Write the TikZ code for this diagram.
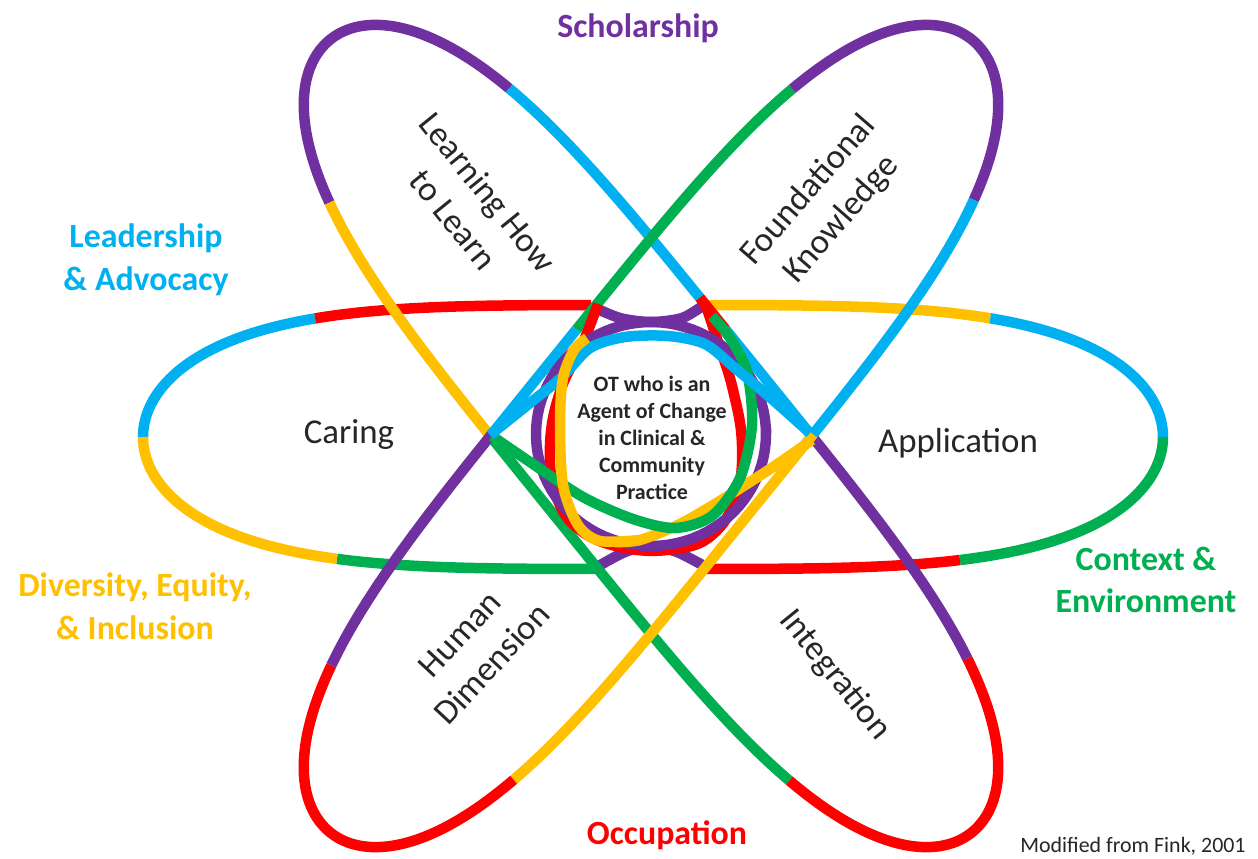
\documentclass[tikz,border=0pt]{standalone}
\usepackage{fontspec}
\setmainfont{Carlito}

\definecolor{opurple}{HTML}{7030A0}
\definecolor{oblue}{HTML}{00B0F0}
\definecolor{oyellow}{HTML}{FFC000}
\definecolor{ogreen}{HTML}{00B050}
\definecolor{ored}{HTML}{FF0000}

\tikzset{
  orbit/.style={line width=10.5bp},
  petal/.style={font=\fontsize{35}{44}\selectfont, align=center, text=black!85},
  aim/.style={font=\bfseries\fontsize{34}{43}\selectfont, align=center},
}

% 轨道上的一段: 中心x, 中心y, 长半轴, 短半轴, 倾角, 颜色, 起止参数
\newcommand{\orbitarc}[8]{%
  \draw [orbit,#6] plot [domain=#7:#8, samples=70, variable=\t]
    ({#1 + #3*cos(\t)*cos(#5) - #4*sin(\t)*sqrt(1+cos(\t)*cos(\t))*sin(#5)},
     {#2 + #3*cos(\t)*sin(#5) + #4*sin(\t)*sqrt(1+cos(\t)*cos(\t))*cos(#5)});
}

\begin{document}
\begin{tikzpicture}[x=1bp, y=-1bp]
\useasboundingbox (0,0) rectangle (1258,859);

%%水平轨道
\foreach \segc/\ta/\tb in {oblue/180/228.5, ored/228.5/263, oyellow/276/311.4, oblue/311.4/360,
    ogreen/0/53, ored/53/84, ogreen/96.5/128.3, oyellow/128.3/180}
  {\orbitarc{653}{437}{510}{132}{0}{\segc}{\ta}{\tb}}
\draw [orbit,opurple] plot [smooth] coordinates {(591,306) (620,318) (651,322) (682,318) (704,305)};
\draw [orbit,opurple] plot [smooth] coordinates {(597,567) (625,552) (651,546) (677,552) (706,567)};

%%左上-右下轨道
\foreach \segc/\ta/\tb in {opurple/138.8/225.2, oyellow/101.7/138.8, ogreen/45.9/101.7, ored/-43.2/45.9,
    opurple/-79.2/-43.2, oblue/-94.1/-79.2, ored/-98.7/-94.1, oblue/-134.8/-98.7}
  {\orbitarc{651}{436}{510}{125}{51}{\segc}{\ta}{\tb}}

%%左下-右上轨道
\foreach \segc/\ta/\tb in {ogreen/-86/-45.3, opurple/-45.3/40.7, oblue/40.7/78.3, oyellow/78.3/133.9,
    ored/133.9/221.9, opurple/221.9/258.8, oblue/258.8/274}
  {\orbitarc{651}{436}{510}{125}{-51}{\segc}{\ta}{\tb}}

%%中心的小圈
\draw [orbit,ored] plot [smooth, tension=0.7] coordinates {(598,304) (582,345) (560,392) (550,445)
    (556,495) (580,530) (625,548) (675,549) (712,535) (736,497) (742,445) (733,390) (718,342) (706,306)};
\draw [orbit,opurple] plot [domain=0:360, samples=90, variable=\t] ({651+115*cos(\t)}, {434+112*sin(\t)}) -- cycle;
\draw [orbit,oyellow] plot [smooth] coordinates {(812,440) (773,467) (723,499) (680,524) (640,540) (615,542)};
\draw [orbit,ogreen] plot [smooth] coordinates {(492,436) (530,462) (583,497) (633,519) (675,528)
    (712,516) (740,478) (752,425) (747,372) (730,338) (712,316)};
\draw [orbit,oblue] plot [smooth] coordinates {(490,435) (530,403) (562,377) (590,348) (625,337)
    (668,336) (705,344) (735,368) (773,400) (810,433)};
\draw [orbit,oyellow] plot [smooth] coordinates {(640,540) (600,541) (578,525) (563,485) (560,423)
    (563,378) (574,350) (587,338)};

%%各区文字
\node (caring) [petal] at (349,434) {Caring};
\node (apply) [petal] at (958,443) {Application};
\node (learn) [petal,rotate=-51] at (471,206) {Learning How\\to Learn};
\node (found) [petal,rotate=49] at (825,205) {Foundational\\Knowledge};
\node (human) [petal,rotate=47] at (476,649) {Human\\Dimension};
\node (integ) [petal,rotate=-51] at (835,675) {Integration};
\node (agent) [font=\bfseries\fontsize{22}{27}\selectfont, align=center, text=black!85] at (652,438)
    {OT who is an\\Agent of Change\\in Clinical \&\\Community\\Practice};

%%外圈文字
\node (scholar) [aim,text=opurple] at (638,28) {Scholarship};
\node (leader) [aim,text=oblue] at (146,260) {Leadership\\\& Advocacy};
\node (diverse) [aim,text=oyellow] at (135,606) {Diversity, Equity,\\\& Inclusion};
\node (context) [aim,text=ogreen] at (1146,580) {Context \&\\Environment};
\node (occup) [aim,text=ored] at (667,835) {Occupation};
\node (fink) [font=\fontsize{22}{26}\selectfont, text=black!85] at (1133,846) {Modified from Fink, 2001};

\end{tikzpicture}
\end{document}
